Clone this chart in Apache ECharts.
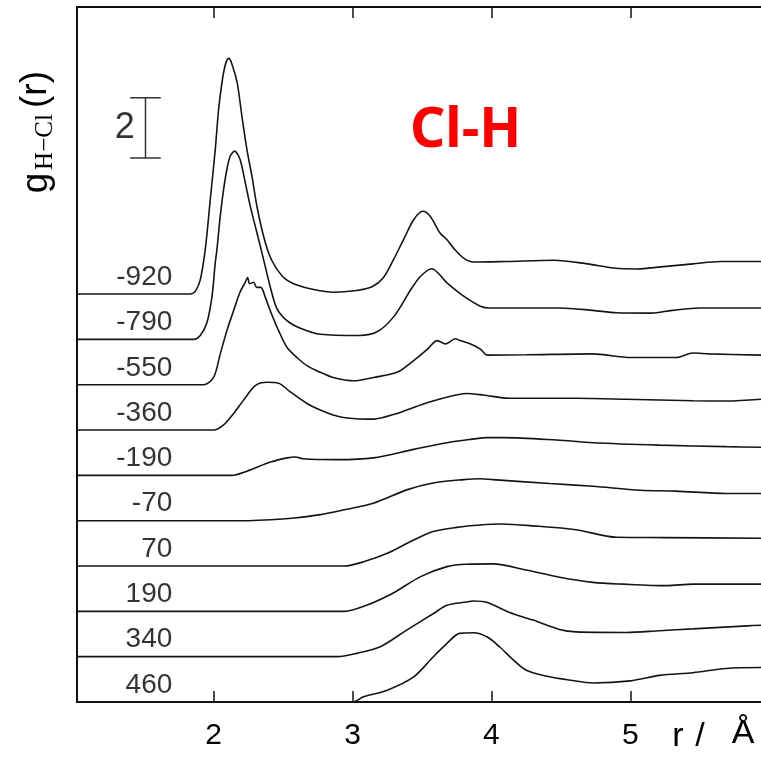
<!DOCTYPE html>
<html>
<head>
<meta charset="utf-8">
<script src="https://cdn.jsdelivr.net/npm/echarts@6/dist/echarts.min.js"></script>
<style>
html,body{margin:0;padding:0;background:#fff;}
#chart{width:761px;height:758px;}
</style>
</head>
<body>
<div id="chart"></div>
<script>
// ---- data ----
const curveLabels = ['-920', '-790', '-550', '-360', '-190', '-70', '70', '190', '340', '460'];
const offsetStep = 1.5;          // vertical shift between successive curves (g units)
const xTicks = [2, 3, 4, 5];
const scaleBar = { r: 1.51, from: 18, to: 20, label: '2' };

// g(r) for each potential, [r (Å), g]
const gM920 = [[1.02,0],[1.83,0],[1.868,0.09],[1.904,0.47],[1.94,1.47],[1.976,3.12],[2.012,4.78],[2.036,6.1],[2.06,6.99],[2.084,7.58],[2.108,7.8],[2.13,7.64],[2.17,6.99],[2.204,5.88],[2.24,4.78],[2.276,3.9],[2.312,2.9],[2.348,2.13],[2.396,1.36],[2.444,0.91],[2.516,0.5],[2.6,0.3],[2.72,0.15],[2.86,0.06],[3.03,0.12],[3.14,0.24],[3.22,0.53],[3.295,1.14],[3.367,1.8],[3.44,2.46],[3.506,2.74],[3.56,2.57],[3.63,2.02],[3.68,1.8],[3.727,1.52],[3.8,1.19],[3.87,1.06],[4.11,1.08],[4.45,1.12],[4.69,1.0],[4.88,0.86],[5.05,0.83],[5.22,0.9],[5.45,1.0],[5.65,1.08],[5.94,1.08]];
const gM790 = [[1.02,0],[1.856,0],[1.904,0.13],[1.952,0.55],[1.989,1.43],[2.012,2.53],[2.024,2.97],[2.048,4.08],[2.072,4.96],[2.096,5.63],[2.12,6.07],[2.151,6.23],[2.19,5.96],[2.228,5.19],[2.264,4.41],[2.312,3.53],[2.36,2.64],[2.41,1.7],[2.456,1.02],[2.528,0.62],[2.62,0.38],[2.77,0.17],[3.05,0.13],[3.18,0.26],[3.3,0.77],[3.42,1.65],[3.49,2.09],[3.57,2.34],[3.68,1.87],[3.8,1.43],[3.92,1.1],[3.99,1.04],[4.49,1.04],[4.73,0.96],[4.9,0.88],[5.15,0.87],[5.3,0.96],[5.5,1.04],[5.94,1.04]];
const gM550 = [[1.02,0],[1.93,0],[2.0,0.24],[2.048,1.02],[2.096,1.79],[2.144,2.45],[2.19,3.06],[2.228,3.39],[2.245,3.55],[2.26,3.34],[2.288,3.39],[2.31,3.22],[2.34,3.22],[2.372,2.9],[2.408,2.45],[2.468,1.79],[2.528,1.24],[2.6,0.9],[2.672,0.63],[2.768,0.41],[2.86,0.24],[3.01,0.13],[3.15,0.24],[3.32,0.41],[3.44,0.8],[3.54,1.18],[3.61,1.46],[3.67,1.35],[3.74,1.52],[3.775,1.46],[3.85,1.35],[3.92,1.18],[3.97,0.98],[4.25,0.99],[4.73,1.02],[5.0,0.9],[5.33,0.9],[5.45,1.05],[5.57,1.02],[5.94,0.98]];
const gM360 = [[1.02,0],[2.0,0],[2.072,0.17],[2.144,0.55],[2.216,0.99],[2.3,1.47],[2.384,1.58],[2.468,1.55],[2.55,1.27],[2.672,0.88],[2.768,0.66],[2.86,0.5],[2.96,0.4],[3.15,0.36],[3.32,0.55],[3.49,0.83],[3.65,1.05],[3.82,1.21],[3.94,1.16],[4.13,1.05],[4.61,1.05],[4.97,1.02],[5.45,0.97],[5.69,0.96],[5.94,1.02]];
const gM190 = [[1.02,0],[2.13,0],[2.24,0.14],[2.41,0.44],[2.53,0.58],[2.59,0.61],[2.64,0.55],[2.89,0.52],[3.15,0.58],[3.44,0.86],[3.68,1.08],[3.85,1.19],[3.97,1.25],[4.09,1.25],[4.47,1.17],[4.73,1.08],[5.21,1.0],[5.69,0.95],[5.94,0.93]];
const gM70 = [[1.02,0],[2.22,0],[2.58,0.09],[2.77,0.2],[2.94,0.36],[3.15,0.58],[3.39,1.02],[3.58,1.25],[3.8,1.36],[3.92,1.39],[4.01,1.36],[4.42,1.23],[4.73,1.14],[5.07,1.01],[5.33,0.98],[5.69,0.9],[5.94,0.9]];
const gP70 = [[1.02,0],[2.94,0],[3.08,0.14],[3.25,0.42],[3.44,0.86],[3.58,1.14],[3.75,1.28],[3.92,1.36],[4.07,1.39],[4.3,1.33],[4.61,1.2],[4.9,0.95],[5.24,0.94],[5.94,0.92]];
const gP190 = [[1.02,0],[2.94,0],[3.1,0.2],[3.29,0.6],[3.49,1.15],[3.68,1.48],[3.82,1.56],[4.01,1.57],[4.25,1.37],[4.49,1.13],[4.73,0.96],[4.95,0.9],[5.26,0.85],[5.45,0.9],[5.94,0.9]];
const gP340 = [[1.02,0],[2.89,0],[3.03,0.11],[3.2,0.33],[3.39,0.88],[3.58,1.42],[3.68,1.7],[3.82,1.81],[3.87,1.84],[3.97,1.79],[4.13,1.46],[4.3,1.21],[4.49,0.9],[4.61,0.82],[4.97,0.8],[5.21,0.86],[5.45,0.92],[5.84,1.02],[5.94,1.04]];
const gP460 = [[1.02,0],[3.0,0],[3.08,0.17],[3.25,0.39],[3.44,0.83],[3.58,1.49],[3.68,1.94],[3.77,2.27],[3.87,2.29],[3.97,2.15],[4.06,1.82],[4.16,1.38],[4.25,1.05],[4.4,0.85],[4.57,0.72],[4.73,0.63],[5.0,0.7],[5.21,0.88],[5.45,0.97],[5.69,1.11],[5.94,1.14]];

const curves = [gM920, gM790, gM550, gM360, gM190, gM70, gP70, gP190, gP340, gP460];

// ---- chart ----
const chart = echarts.init(document.getElementById('chart'), null, { renderer: 'canvas' });
const ink = '#141414';
const n = curves.length;
const labelR = 1.703;     // where the potential labels end (right-aligned)
const labelLift = 0.56;

const series = [];
curves.forEach((pts, k) => {
  const off = offsetStep * (n - 1 - k);
  series.push({
    type: 'line',
    name: curveLabels[k],
    data: pts.map(p => [p[0], p[1] + off]),
    showSymbol: false,
    smooth: 0.3,
    lineStyle: { color: ink, width: 1.6 },
    silent: true,
    z: 3
  });
});

// potential labels
series.push({
  type: 'scatter',
  symbolSize: 0,
  silent: true,
  data: curveLabels.map((t, k) => ({ value: [labelR, offsetStep * (n - 1 - k) + labelLift], name: t })),
  label: {
    show: true, position: 'inside', formatter: p => p.name,
    align: 'right', verticalAlign: 'middle',
    fontFamily: 'Liberation Sans', fontSize: 28, color: '#000'
  }
});

// scale bar (2 units of g)
const capHalf = 0.11;
series.push({ type: 'line', silent: true, showSymbol: false, lineStyle: { color: '#333', width: 1.5 },
  data: [[scaleBar.r, scaleBar.from], [scaleBar.r, scaleBar.to]] });
series.push({ type: 'line', silent: true, showSymbol: false, lineStyle: { color: '#333', width: 1.5 },
  data: [[scaleBar.r - capHalf, scaleBar.from], [scaleBar.r + capHalf, scaleBar.from]] });
series.push({ type: 'line', silent: true, showSymbol: false, lineStyle: { color: '#333', width: 1.5 },
  data: [[scaleBar.r - capHalf, scaleBar.to], [scaleBar.r + capHalf, scaleBar.to]] });
series.push({ type: 'scatter', symbolSize: 0, silent: true,
  data: [{ value: [scaleBar.r - 0.15, (scaleBar.from + scaleBar.to) / 2], name: scaleBar.label }],
  label: { show: true, position: 'inside', formatter: p => p.name, align: 'center', verticalAlign: 'middle',
    fontFamily: 'Liberation Sans', fontSize: 36, color: '#000' } });

const xMin = 1.017, xMax = 5.94;
const axisLineStyle = { color: '#111', width: 2 };

chart.setOption({
  animation: false,
  backgroundColor: '#fff',
  grid: { left: 77, right: 0, top: 7, bottom: 56 },
  xAxis: [
    {
      type: 'value', min: xMin, max: xMax, position: 'bottom',
      axisLine: { show: true, lineStyle: axisLineStyle },
      axisTick: { show: true, inside: true, length: 11, customValues: xTicks, lineStyle: { color: '#111', width: 1.5 } },
      axisLabel: { show: true, customValues: xTicks, fontFamily: 'Liberation Sans', fontSize: 30, color: '#000', margin: 34, verticalAlign: 'middle' },
      splitLine: { show: false }
    },
    {
      type: 'value', min: xMin, max: xMax, position: 'top',
      axisLine: { show: true, lineStyle: axisLineStyle },
      axisTick: { show: true, inside: true, length: 11, customValues: xTicks, lineStyle: { color: '#111', width: 1.5 } },
      axisLabel: { show: false },
      splitLine: { show: false }
    }
  ],
  yAxis: {
    type: 'value', min: 0, max: 23,
    axisLine: { show: true, lineStyle: axisLineStyle },
    axisTick: { show: false }, axisLabel: { show: false }, splitLine: { show: false }
  },
  series: series,
  graphic: [
    { type: 'text', x: 410, y: 131, silent: true,
      style: { text: 'Cl-H', fill: '#ff0000', fontFamily: 'Noto Sans', fontWeight: 'bold', fontSize: 55, align: 'left', verticalAlign: 'middle' } },
    // y-axis title g_{H−Cl}(r), rotated
    { type: 'text', x: 37, y: 183, rotation: Math.PI / 2, silent: true,
      style: { text: 'g', fill: '#000', fontFamily: 'Liberation Sans', fontSize: 37, align: 'center', verticalAlign: 'middle' } },
    { type: 'text', x: 45, y: 142, rotation: Math.PI / 2, silent: true,
      style: { text: 'H\u2212Cl', fill: '#000', fontFamily: 'Liberation Serif', fontSize: 25, align: 'center', verticalAlign: 'middle' } },
    { type: 'text', x: 36, y: 89.5, rotation: Math.PI / 2, silent: true,
      style: { text: '(r)', fill: '#000', fontFamily: 'Liberation Sans', fontSize: 37, align: 'center', verticalAlign: 'middle' } },
    // x-axis title r / Å
    { type: 'text', x: 678, y: 737, silent: true,
      style: { text: 'r', fill: '#000', fontFamily: 'Liberation Sans', fontSize: 34, align: 'center', verticalAlign: 'middle' } },
    { type: 'text', x: 700, y: 737, silent: true,
      style: { text: '/', fill: '#000', fontFamily: 'Liberation Sans', fontSize: 34, align: 'center', verticalAlign: 'middle' } },
    { type: 'text', x: 743, y: 734, silent: true,
      style: { text: '\u00c5', fill: '#000', fontFamily: 'Liberation Sans', fontSize: 34, align: 'center', verticalAlign: 'middle' } }
  ]
});
</script>
</body>
</html>
